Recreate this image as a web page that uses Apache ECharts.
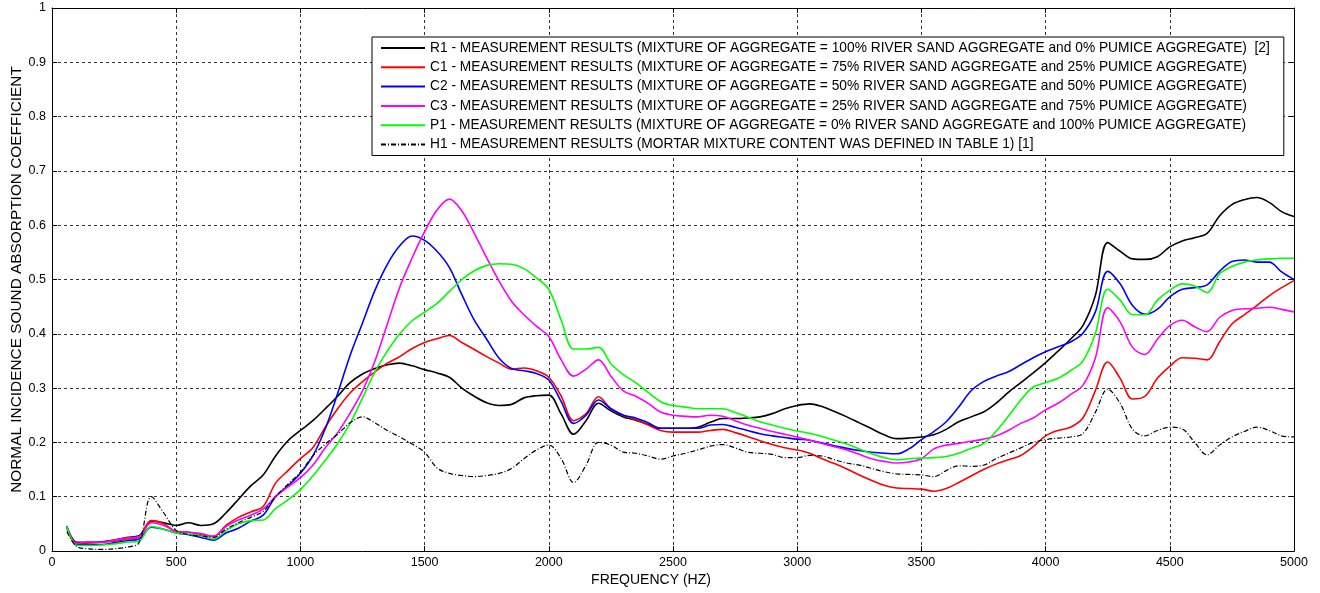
<!DOCTYPE html>
<html>
<head>
<meta charset="utf-8">
<title>Normal incidence sound absorption coefficient</title>
<script src="https://cdn.jsdelivr.net/npm/echarts@6/dist/echarts.min.js"></script>
<style>
  html, body { margin: 0; padding: 0; background: #fff; }
  #chart { width: 1320px; height: 593px; }
</style>
</head>
<body>
<div id="chart"></div>
<script>
// Frequency points (Hz)
const freq = [60];
for (let f = 100; f <= 5000; f += 50) freq.push(f);

const xTicks = [0, 500, 1000, 1500, 2000, 2500, 3000, 3500, 4000, 4500, 5000];
const yTicks = [0, 0.1, 0.2, 0.3, 0.4, 0.5, 0.6, 0.7, 0.8, 0.9, 1];

const seriesNames = [
  'R1 - MEASUREMENT RESULTS (MIXTURE OF AGGREGATE = 100% RIVER SAND AGGREGATE and 0% PUMICE AGGREGATE)  [2]',
  'C1 - MEASUREMENT RESULTS (MIXTURE OF AGGREGATE = 75% RIVER SAND AGGREGATE and 25% PUMICE AGGREGATE)',
  'C2 - MEASUREMENT RESULTS (MIXTURE OF AGGREGATE = 50% RIVER SAND AGGREGATE and 50% PUMICE AGGREGATE)',
  'C3 - MEASUREMENT RESULTS (MIXTURE OF AGGREGATE = 25% RIVER SAND AGGREGATE and 75% PUMICE AGGREGATE)',
  'P1 - MEASUREMENT RESULTS (MIXTURE OF AGGREGATE = 0% RIVER SAND AGGREGATE and 100% PUMICE AGGREGATE)',
  'H1 - MEASUREMENT RESULTS (MORTAR MIXTURE CONTENT WAS DEFINED IN TABLE 1) [1]'
];

const R1 = [0.044,0.016,0.016,0.017,0.020,0.025,0.028,0.055,0.052,0.047,0.052,0.047,0.050,0.070,0.095,0.120,0.140,0.175,0.203,0.222,
  0.240,0.262,0.285,0.310,0.326,0.336,0.343,0.346,0.341,0.334,0.328,0.320,0.300,0.285,0.273,0.268,0.270,0.282,0.286,0.287,
  0.252,0.215,0.240,0.272,0.258,0.247,0.241,0.233,0.226,0.226,0.226,0.228,0.237,0.244,0.244,0.245,0.247,0.253,0.262,0.268,
  0.271,0.266,0.257,0.247,0.236,0.225,0.214,0.207,0.208,0.210,0.214,0.224,0.238,0.247,0.256,0.272,0.292,0.310,0.328,0.347,
  0.368,0.390,0.415,0.470,0.568,0.552,0.538,0.537,0.542,0.560,0.571,0.577,0.585,0.617,0.638,0.647,0.651,0.642,0.625,0.616];

const C1 = [0.042,0.014,0.015,0.016,0.018,0.022,0.026,0.056,0.050,0.036,0.035,0.030,0.027,0.047,0.062,0.072,0.082,0.125,0.148,0.170,
  0.190,0.228,0.262,0.291,0.312,0.330,0.346,0.358,0.373,0.384,0.391,0.397,0.384,0.371,0.358,0.346,0.335,0.337,0.332,0.320,
  0.285,0.240,0.253,0.284,0.262,0.250,0.242,0.232,0.222,0.219,0.219,0.219,0.222,0.224,0.218,0.211,0.203,0.196,0.190,0.186,
  0.180,0.170,0.161,0.151,0.140,0.130,0.121,0.116,0.115,0.114,0.110,0.115,0.126,0.138,0.150,0.160,0.168,0.176,0.192,0.212,
  0.222,0.228,0.245,0.295,0.348,0.318,0.280,0.285,0.318,0.340,0.356,0.355,0.352,0.385,0.418,0.435,0.452,0.470,0.485,0.498];

const C2 = [0.046,0.012,0.012,0.012,0.015,0.019,0.022,0.044,0.040,0.033,0.030,0.025,0.020,0.033,0.042,0.055,0.066,0.100,0.120,0.143,
  0.175,0.225,0.290,0.360,0.420,0.480,0.528,0.562,0.580,0.572,0.552,0.522,0.472,0.425,0.390,0.355,0.336,0.332,0.327,0.315,
  0.275,0.235,0.250,0.278,0.262,0.250,0.245,0.236,0.226,0.226,0.226,0.226,0.232,0.233,0.228,0.222,0.216,0.212,0.209,0.206,
  0.204,0.199,0.194,0.189,0.185,0.182,0.180,0.179,0.188,0.205,0.220,0.238,0.265,0.295,0.312,0.322,0.330,0.343,0.356,0.367,
  0.376,0.385,0.401,0.440,0.515,0.492,0.452,0.436,0.445,0.468,0.482,0.485,0.490,0.515,0.533,0.536,0.532,0.532,0.514,0.500];

const C3 = [0.042,0.014,0.017,0.016,0.020,0.024,0.026,0.052,0.047,0.036,0.034,0.032,0.027,0.045,0.057,0.066,0.077,0.100,0.118,0.135,
  0.158,0.190,0.218,0.254,0.295,0.350,0.418,0.486,0.540,0.588,0.628,0.648,0.626,0.585,0.540,0.497,0.460,0.435,0.414,0.395,
  0.352,0.322,0.335,0.352,0.322,0.295,0.285,0.272,0.256,0.250,0.248,0.247,0.250,0.248,0.240,0.232,0.226,0.220,0.215,0.210,
  0.204,0.198,0.192,0.186,0.178,0.170,0.165,0.162,0.164,0.170,0.188,0.195,0.198,0.202,0.206,0.212,0.222,0.235,0.245,0.260,
  0.272,0.288,0.305,0.355,0.448,0.422,0.375,0.362,0.390,0.415,0.425,0.413,0.404,0.430,0.443,0.446,0.447,0.449,0.445,0.440];

const P1 = [0.045,0.010,0.010,0.011,0.013,0.016,0.018,0.045,0.040,0.033,0.031,0.028,0.022,0.037,0.050,0.056,0.057,0.078,0.094,0.113,
  0.138,0.167,0.198,0.235,0.282,0.330,0.368,0.400,0.424,0.440,0.456,0.478,0.500,0.516,0.526,0.529,0.528,0.520,0.503,0.482,
  0.425,0.372,0.372,0.375,0.345,0.325,0.310,0.292,0.275,0.268,0.265,0.262,0.262,0.262,0.255,0.247,0.238,0.232,0.226,0.221,
  0.217,0.211,0.204,0.197,0.188,0.179,0.172,0.168,0.170,0.171,0.172,0.174,0.180,0.189,0.198,0.220,0.248,0.278,0.302,0.310,
  0.318,0.332,0.350,0.400,0.482,0.462,0.435,0.435,0.462,0.480,0.492,0.488,0.476,0.510,0.524,0.532,0.536,0.538,0.539,0.539];

const H1 = [0.036,0.008,0.004,0.003,0.004,0.007,0.015,0.100,0.070,0.038,0.030,0.028,0.025,0.040,0.052,0.062,0.073,0.100,0.123,0.145,
  0.175,0.197,0.215,0.236,0.247,0.236,0.222,0.210,0.197,0.182,0.153,0.143,0.139,0.137,0.139,0.143,0.152,0.170,0.186,0.195,
  0.170,0.126,0.158,0.200,0.195,0.182,0.180,0.175,0.169,0.175,0.180,0.186,0.193,0.196,0.190,0.182,0.180,0.178,0.172,0.172,
  0.176,0.175,0.168,0.162,0.158,0.152,0.146,0.142,0.141,0.140,0.137,0.148,0.157,0.156,0.158,0.170,0.180,0.190,0.200,0.205,
  0.208,0.210,0.216,0.255,0.298,0.272,0.224,0.212,0.222,0.228,0.225,0.200,0.177,0.195,0.210,0.220,0.228,0.222,0.212,0.210];

const seriesValues = [R1, C1, C2, C3, P1, H1];
const seriesColors = ['#000000', '#ff0000', '#0000ff', '#ff00ff', '#00ff00', '#000000'];

const FONT = '"Liberation Sans", Arial, sans-serif';

const chart = echarts.init(document.getElementById('chart'), null, { renderer: 'canvas' });

const gridLine = { show: true, lineStyle: { color: '#000', type: [3, 3], width: 0.8 } };

const series = seriesValues.map((vals, i) => ({
  name: seriesNames[i],
  type: 'line',
  xAxisIndex: 0,
  yAxisIndex: 0,
  data: vals.map((v, k) => [freq[k], v]),
  showSymbol: false,
  symbol: 'none',
  smooth: 0.35,
  lineStyle: i === 5
    ? { color: seriesColors[i], width: 1.2, type: [5, 2, 1, 2] }
    : { color: seriesColors[i], width: 1.6 },
  itemStyle: { color: seriesColors[i] },
  z: i === 5 ? 3 : 2
}));

const option = {
  animation: false,
  backgroundColor: '#ffffff',
  grid: { left: 52, right: 26, top: 8, bottom: 42, containLabel: false, outerBoundsMode: 'none' },
  legend: {
    orient: 'vertical',
    left: 372,
    top: 37,
    padding: [4, 14, 4, 8],
    backgroundColor: '#ffffff',
    borderColor: '#000',
    borderWidth: 1,
    borderRadius: 0,
    itemWidth: 44,
    itemHeight: 12,
    itemGap: 5.3,
    itemStyle: { opacity: 0 },
    textStyle: { fontFamily: FONT, fontSize: 13.75, color: '#000', padding: [0, 0, 0, 0] },
    data: seriesNames.map(n => ({ name: n }))
  },
  xAxis: [{
    type: 'value',
    min: 0, max: 5000, interval: 500,
    position: 'bottom',
    name: 'FREQUENCY (HZ)',
    nameLocation: 'middle',
    nameGap: 22,
    nameMoveOverlap: false,
    nameTextStyle: { fontFamily: FONT, fontSize: 14, color: '#000', padding: [0, 44, 0, 0] },
    axisLine: { show: true, onZero: false, lineStyle: { color: '#000', width: 1 } },
    axisTick: { show: true, inside: true, length: 5, lineStyle: { color: '#000' } },
    axisLabel: { fontFamily: FONT, fontSize: 12.5, color: '#000', margin: 5,
      formatter: v => xTicks.includes(v) ? String(v) : '' },
    splitLine: gridLine
  }, {
    type: 'value',
    min: 0, max: 5000, interval: 500,
    position: 'top',
    axisLine: { show: true, onZero: false, lineStyle: { color: '#000', width: 1 } },
    axisTick: { show: true, inside: true, length: 5, lineStyle: { color: '#000' } },
    axisLabel: { show: false },
    splitLine: { show: false }
  }],
  yAxis: [{
    type: 'value',
    min: 0, max: 1, interval: 0.1,
    position: 'left',
    name: 'NORMAL INCIDENCE SOUND ABSORPTION COEFFICIENT',
    nameLocation: 'middle',
    nameGap: 28,
    nameMoveOverlap: false,
    nameRotate: 90,
    nameTextStyle: { fontFamily: FONT, fontSize: 15.4, color: '#000' },
    axisLine: { show: true, onZero: false, lineStyle: { color: '#000', width: 1 } },
    axisTick: { show: true, inside: true, length: 5, lineStyle: { color: '#000' } },
    axisLabel: { fontFamily: FONT, fontSize: 12.5, color: '#000', margin: 6,
      formatter: v => {
        const t = yTicks.find(y => Math.abs(y - v) < 1e-9);
        return t === undefined ? '' : String(Math.round(t * 10) / 10);
      } },
    splitLine: gridLine
  }, {
    type: 'value',
    min: 0, max: 1, interval: 0.1,
    position: 'right',
    axisLine: { show: true, onZero: false, lineStyle: { color: '#000', width: 1 } },
    axisTick: { show: true, inside: true, length: 5, lineStyle: { color: '#000' } },
    axisLabel: { show: false },
    splitLine: { show: false }
  }],
  series: series
};

chart.setOption(option);
</script>
</body>
</html>
